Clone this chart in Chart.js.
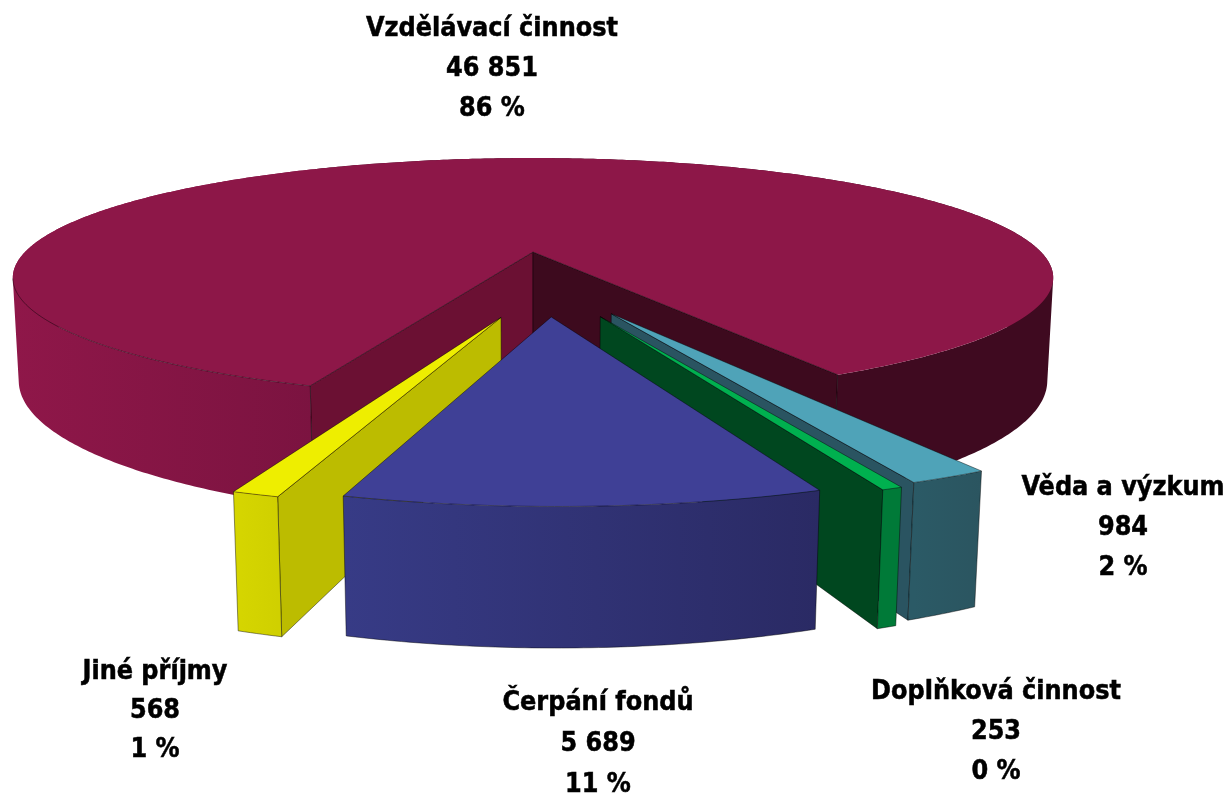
<!DOCTYPE html>
<html lang="cs">
<head>
<meta charset="utf-8">
<style>html,body{margin:0;padding:0;background:#fff}#w{width:1229px;height:797px}canvas{display:block}</style>
<script src="https://cdn.jsdelivr.net/npm/chart.js@4"></script>
</head>
<body>
<div id="w"><canvas id="c" width="1229" height="797"></canvas></div>
<script>
const categories = ['Vzdělávací činnost','Věda a výzkum','Doplňková činnost','Čerpání fondů','Jiné příjmy'];
const values = [46851,984,253,5689,568];
const valueLabels = ['46 851','984','253','5 689','568'];
const percentLabels = ['86 %','2 %','0 %','11 %','1 %'];
const topColors = ['#8D1748','#4FA3B8','#00B04F','#3F4096','#EEEE00'];

// Styling and view configuration
const view = {k:0.215, sx:2.016, sy:0.453, h:0.397, dz:0.011};
const explode = [[0,0],[0.138,0.485],[0.118,0.505],[0.032,0.507],[-0.056,0.51]];
const drawOrder = [0,1,2,4,3];
const startWall = ['#6B1033',null,null,null,'#BCBC00'];
const endWall = ['#3D0A1E','#2A5461','#00471F',null,null];
const outerStops = [
  [[0,'#8F1749'],[0.29,'#7B1340'],[0.2901,'#3F0A20'],[1,'#3F0A20']],
  [[0,'#2B5A66'],[1,'#2B5560']],
  [[0,'#007A38'],[1,'#007A38']],
  [[0,'#373B86'],[1,'#2A2A64']],
  [[0,'#D6D600'],[1,'#D0D000']]
];
const labelPos = [[492,29,40],[1123,488,40],[996,692,40],[598,703,41],[155,672,39]];
const EDGE = 'rgba(0,0,0,.55)';

const pie3d = {
  id:'pie3d',
  beforeDatasetDraw(chart, args){
    const ctx = chart.ctx, arcs = chart.getDatasetMeta(args.index).data;
    const a0 = arcs[0], R = a0.outerRadius, cx = a0.x, cy = a0.y;
    const P = (u,v,low)=>{
      const w = 1 - view.k*v + (low?view.dz:0);
      return [cx + view.sx*R*u/w, cy + (view.sy*R*v + (low?view.h*R:0))/w];
    };
    const poly = (pts,fill,stroke)=>{
      ctx.beginPath();
      pts.forEach((p,i)=> i?ctx.lineTo(p[0],p[1]):ctx.moveTo(p[0],p[1]));
      ctx.closePath();
      if(fill){ctx.fillStyle=fill;ctx.fill();}
      if(stroke){ctx.strokeStyle=EDGE;ctx.lineWidth=.8;ctx.stroke();}
    };
    const line = pts=>{
      ctx.strokeStyle=EDGE;ctx.lineWidth=.8;
      ctx.beginPath();
      pts.forEach((p,i)=> i?ctx.lineTo(p[0],p[1]):ctx.moveTo(p[0],p[1]));
      ctx.stroke();
    };
    ctx.save();
    ctx.lineJoin='round';
    drawOrder.forEach(i=>{
      const arc = arcs[i], [du,dv] = explode[i];
      const s = arc.startAngle, e = arc.endAngle;
      const n = Math.max(4,Math.ceil((e-s)/0.01));
      const rim = [], ang = [];
      for(let j=0;j<=n;j++){
        const a = s+(e-s)*j/n;
        ang.push(a);
        rim.push([du+Math.cos(a),dv+Math.sin(a)]);
      }
      const top = rim.map(p=>P(p[0],p[1],false));
      const low = rim.map(p=>P(p[0],p[1],true));
      const apexT = P(du,dv,false), apexL = P(du,dv,true);
      const sx0 = Math.min(...top.map(p=>p[0])), sx1 = Math.max(...top.map(p=>p[0]));
      const isMain = (e-s)>Math.PI;
      // radial cut walls
      if(startWall[i]) poly([apexT,top[0],low[0],apexL],startWall[i],true);
      if(endWall[i]) poly([apexT,top[n],low[n],apexL],endWall[i],true);
      // outer rim wall: one path of equally wound strips, so back and front parts both fill
      const g = ctx.createLinearGradient(sx0,0,sx1,0);
      outerStops[i].forEach(st=>g.addColorStop(st[0],st[1]));
      ctx.beginPath();
      for(let j=0;j<n;j++){
        let q = [top[j],top[j+1],low[j+1],low[j]];
        let area = 0;
        q.forEach((p,m)=>{const r=q[(m+1)%4];area+=p[0]*r[1]-r[0]*p[1];});
        if(area<0) q = q.reverse();
        q.forEach((p,m)=> m?ctx.lineTo(p[0],p[1]):ctx.moveTo(p[0],p[1]));
        ctx.closePath();
      }
      ctx.fillStyle=g;
      ctx.fill('nonzero');
      if(!isMain) line(low);
      line([top[0],low[0]]);
      line([top[n],low[n]]);
      // top face
      poly([apexT].concat(top),arc.options.backgroundColor,!isMain);
      if(isMain){
        line([apexT,top[0]]);
        line([apexT,top[n]]);
        const front = [];
        ang.forEach((a,j)=>{ if(Math.sin(a)>0.215 && Math.cos(a)<0) front.push(top[j]); });
        line(front);
      }
    });
    ctx.restore();
    return false;
  },
  afterDraw(chart){
    const ctx = chart.ctx;
    ctx.save();
    ctx.fillStyle='#000';
    ctx.strokeStyle='#000';
    ctx.lineWidth=.5;
    ctx.textAlign='center';
    ctx.textBaseline='middle';
    ctx.font='bold 26.7px "DejaVu Sans Condensed","DejaVu Sans"';
    categories.forEach((c,i)=>{
      const [x,y,lh] = labelPos[i];
      [c,valueLabels[i],percentLabels[i]].forEach((t,j)=>{
        ctx.fillText(t,x,y+j*lh);
        ctx.strokeText(t,x,y+j*lh);
      });
    });
    ctx.restore();
  }
};

new Chart(document.getElementById('c'),{
  type:'pie',
  data:{labels:categories,datasets:[{data:values,backgroundColor:topColors,borderWidth:0}]},
  options:{
    responsive:false,animation:false,rotation:200.5,
    layout:{padding:{left:0,top:0,right:163,bottom:293}},
    plugins:{legend:{display:false},tooltip:{enabled:false}}
  },
  plugins:[pie3d]
});
</script>
</body>
</html>
